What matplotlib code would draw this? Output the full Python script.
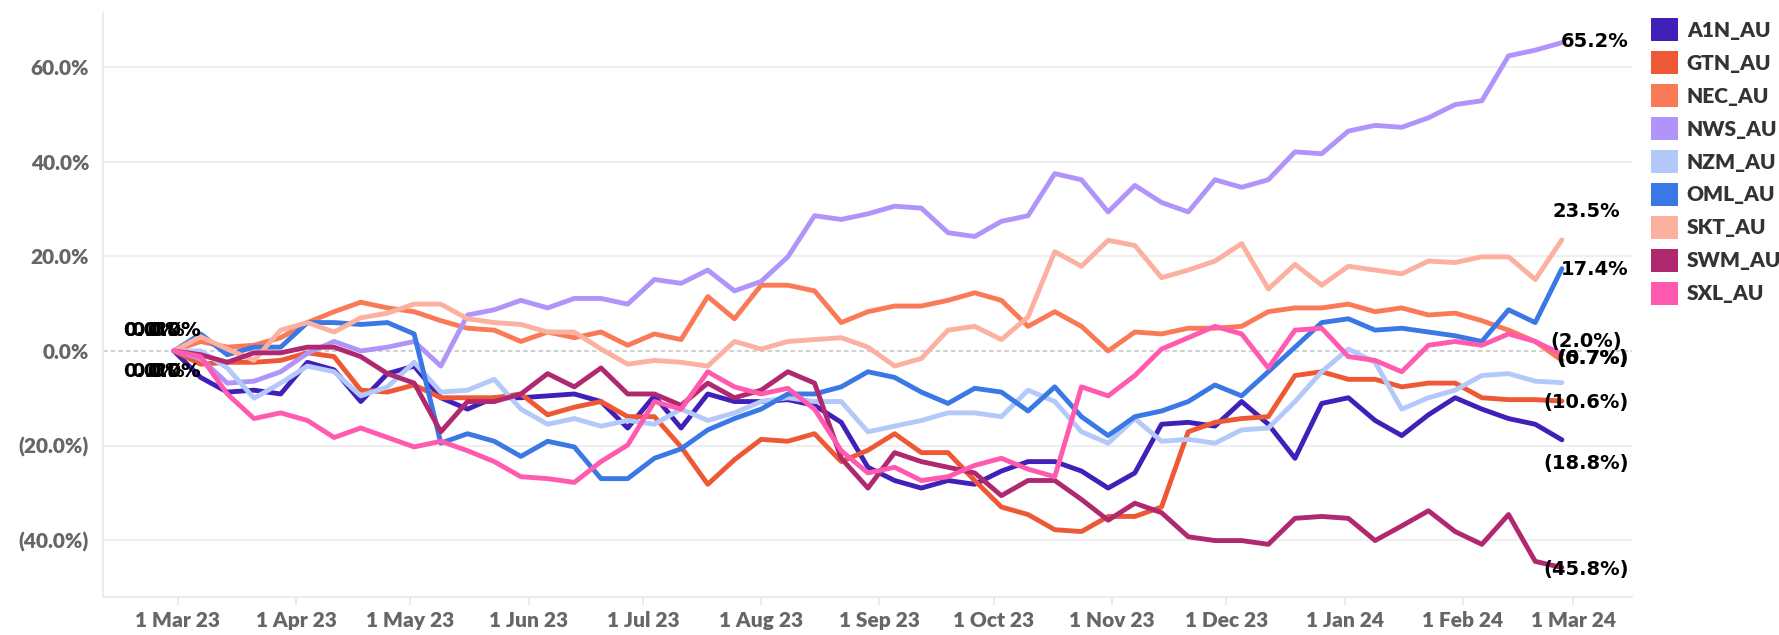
import matplotlib
matplotlib.use('Agg')
import matplotlib.pyplot as plt
import matplotlib.dates as mdates
from matplotlib.patches import Patch
from matplotlib.ticker import FuncFormatter, FixedLocator
import pandas as pd

# ---------------- data ----------------
dates = pd.date_range('2023-02-28', periods=53, freq='7D')

tickers = ['A1N_AU', 'GTN_AU', 'NEC_AU', 'NWS_AU', 'NZM_AU', 'OML_AU', 'SKT_AU', 'SWM_AU', 'SXL_AU']
colors = ['#4020B9', '#EE5834', '#FA7A58', '#B094FA', '#B2C9FA', '#3A78E6', '#FCB0A0', '#B02870', '#FF5AAF']

A1N = [0, -5.6, -8.7, -8.3, -9.1, -2.4, -4.0, -10.7, -4.8, -3.2,
       -9.9, -12.3, -9.9, -9.9, -9.5, -9.1, -10.7, -16.3, -9.5, -16.3,
       -9.1, -10.7, -10.7, -10.3, -11.5, -15.1, -24.6, -27.4, -29.0, -27.4,
       -28.2, -25.4, -23.4, -23.4, -25.4, -29.0, -25.8, -15.5, -15.1, -15.9,
       -10.7, -15.5, -22.7, -11.1, -9.9, -14.7, -17.9, -13.5, -9.9, -12.3,
       -14.3, -15.5, -18.8]
GTN = [0, -2.8, -2.4, -2.4, -2.0, -0.4, -1.2, -8.3, -8.7, -7.2,
       -9.9, -9.9, -9.9, -9.1, -13.5, -11.9, -10.7, -13.9, -13.9, -20.3,
       -28.2, -23.0, -18.7, -19.1, -17.5, -23.4, -21.0, -17.5, -21.5, -21.5,
       -27.4, -33.0, -34.6, -37.8, -38.2, -35.0, -35.0, -33.0, -17.1, -15.1,
       -14.3, -13.9, -5.2, -4.4, -6.0, -6.0, -7.6, -6.8, -6.8, -9.9,
       -10.3, -10.3, -10.6]
NEC = [0, 2.0, 0.8, 1.2, 2.8, 6.0, 8.3, 10.3, 9.1, 8.3,
       6.4, 4.8, 4.4, 2.0, 4.0, 2.8, 4.0, 1.2, 3.6, 2.4,
       11.5, 6.8, 13.9, 13.9, 12.7, 6.0, 8.3, 9.5, 9.5, 10.7,
       12.3, 10.7, 5.2, 8.3, 5.2, 0.0, 4.0, 3.6, 4.8, 4.8,
       5.2, 8.3, 9.1, 9.1, 9.9, 8.3, 9.1, 7.6, 8.0, 6.4,
       4.4, 2.0, -2.0]
NWS = [0, -1.6, -6.8, -6.4, -4.4, -0.5, 2.0, 0.0, 0.8, 2.0,
       -3.2, 7.6, 8.7, 10.7, 9.1, 11.1, 11.1, 9.9, 15.1, 14.3,
       17.1, 12.7, 14.7, 19.9, 28.6, 27.8, 29.0, 30.6, 30.2, 25.0,
       24.2, 27.4, 28.6, 37.5, 36.2, 29.4, 35.0, 31.4, 29.4, 36.2,
       34.6, 36.2, 42.1, 41.7, 46.5, 47.7, 47.3, 49.3, 52.1, 52.9,
       62.4, 63.6, 65.2]
NZM = [0, 0.0, -3.6, -10.0, -6.8, -3.2, -4.4, -9.5, -7.6, -2.4,
       -8.7, -8.3, -6.0, -12.3, -15.5, -14.3, -15.9, -14.7, -15.5, -12.3,
       -14.7, -13.1, -10.7, -9.9, -10.7, -10.7, -17.1, -15.9, -14.7, -13.1,
       -13.1, -13.9, -8.3, -10.7, -17.1, -19.5, -14.3, -19.1, -18.7, -19.5,
       -16.7, -16.3, -10.7, -4.4, 0.4, -2.4, -12.3, -9.9, -8.3, -5.2,
       -4.8, -6.4, -6.7]
OML = [0, 3.6, -0.8, 0.8, 0.8, 6.0, 6.0, 5.6, 6.0, 3.6,
       -19.5, -17.5, -19.1, -22.3, -19.1, -20.3, -27.0, -27.0, -22.7, -20.7,
       -16.7, -14.3, -12.3, -9.1, -9.1, -7.6, -4.4, -5.6, -8.7, -11.1,
       -7.9, -8.7, -12.7, -7.6, -13.9, -17.9, -13.9, -12.7, -10.7, -7.2,
       -9.5, -4.4, 0.8, 6.0, 6.8, 4.4, 4.8, 4.0, 3.2, 2.0,
       8.7, 6.0, 17.4]
SKT = [0, 3.0, 0.4, -2.0, 4.4, 6.0, 4.0, 7.0, 8.0, 9.9,
       9.9, 6.8, 6.0, 5.6, 4.0, 4.0, 0.4, -2.8, -2.0, -2.4,
       -3.2, 2.0, 0.4, 2.0, 2.4, 2.8, 0.8, -3.2, -1.6, 4.4,
       5.2, 2.4, 7.2, 21.0, 17.9, 23.4, 22.3, 15.5, 17.1, 19.0,
       22.7, 13.1, 18.3, 13.9, 17.9, 17.1, 16.3, 19.0, 18.7, 19.9,
       19.9, 15.1, 23.5]
SWM = [0, -0.8, -2.4, -0.4, -0.4, 0.8, 0.8, -1.2, -4.8, -6.8,
       -17.1, -10.7, -10.7, -9.1, -4.8, -7.6, -3.6, -9.1, -9.1, -11.5,
       -6.8, -9.9, -8.3, -4.4, -6.8, -22.7, -29.0, -21.5, -23.4, -24.6,
       -25.8, -30.6, -27.4, -27.4, -31.4, -35.8, -32.2, -34.2, -39.3, -40.1,
       -40.1, -40.9, -35.4, -35.0, -35.4, -40.1, -37.0, -33.8, -38.2, -40.9,
       -34.6, -44.5, -45.8]
SXL = [0, -1.2, -9.1, -14.3, -13.1, -14.7, -18.3, -16.3, -18.3, -20.3,
       -19.1, -21.1, -23.4, -26.6, -27.0, -27.8, -23.4, -19.9, -10.7, -12.3,
       -4.4, -7.6, -9.1, -7.9, -12.3, -21.1, -25.8, -24.6, -27.4, -26.6,
       -24.2, -22.7, -25.0, -26.6, -7.6, -9.5, -5.2, 0.4, 2.8, 5.2,
       3.6, -3.6, 4.4, 4.8, -1.2, -2.0, -4.4, 1.2, 2.0, 1.2,
       3.6, 2.0, -0.7]

series = [A1N, GTN, NEC, NWS, NZM, OML, SKT, SWM, SXL]

y_ticks = [-40, -20, 0, 20, 40, 60]
month_ticks = pd.date_range('2023-03-01', '2024-03-01', freq='MS')

# label placement (offset points from the last / first point)
end_offsets = {
    'A1N_AU': (47.9, -16.8), 'GTN_AU': (47.9, -1.2), 'NEC_AU': (43.5, 13.5),
    'NWS_AU': (47.9, 0.7), 'NZM_AU': (47.9, 17.6), 'OML_AU': (47.9, -0.9),
    'SKT_AU': (42.2, 20.3), 'SWM_AU': (47.9, -1.3), 'SXL_AU': (47.9, -2.9),
}
start_offsets = {
    'A1N_AU': (-17.2, 14.4), 'NEC_AU': (-17.2, 14.4), 'OML_AU': (0, 14.4),
    'SKT_AU': (-11.5, 14.4), 'SXL_AU': (0, 14.4),
    'GTN_AU': (-17.2, -14.9), 'NWS_AU': (-11.5, -14.9), 'NZM_AU': (0, -14.9),
    'SWM_AU': (0, -14.9),
}


def pct(v):
    return f"{v:.1f}%" if v >= -0.05 else f"({-v:.1f}%)"


# ---------------- figure ----------------
W, H = 1779, 635
fig = plt.figure(figsize=(W / 100, H / 100), dpi=100)
fig.patch.set_facecolor('white')
left, right, top, bottom = 103, 1631.7, 13.3, 596.7
ax = fig.add_axes([left / W, 1 - bottom / H, (right - left) / W, (bottom - top) / H])

tick_family = ['Lato', 'DejaVu Sans']
lab_font = dict(family=['DejaVu Sans'], weight='bold', size=14)

for name, vals, col in zip(tickers, series, colors):
    ax.plot(dates, vals, color=col, lw=3.5, solid_joinstyle='round',
            solid_capstyle='round', zorder=3)

for name, vals in zip(tickers, series):
    dx, dy = end_offsets[name]
    ax.annotate(pct(vals[-1]), xy=(dates[-1], vals[-1]), xytext=(dx, dy),
                textcoords='offset points', ha='right', va='center',
                color='black', zorder=5, **lab_font)
    sx, sy = start_offsets[name]
    ax.annotate(pct(vals[0]), xy=(dates[0], vals[0]), xytext=(sx, sy),
                textcoords='offset points', ha='center', va='center',
                color='black', zorder=5, **lab_font)

x0 = mdates.date2num(pd.Timestamp('2023-03-01')) - 19.6
x1 = mdates.date2num(pd.Timestamp('2024-03-01')) + 15.3
ax.set_xlim(x0, x1)
ax.set_ylim(-51.97, 71.4)

ax.yaxis.set_major_locator(FixedLocator(y_ticks))
ax.yaxis.set_major_formatter(FuncFormatter(lambda v, p: pct(v)))
ax.xaxis.set_major_locator(FixedLocator(mdates.date2num(month_ticks)))


def dfmt(x, p):
    d = mdates.num2date(x)
    return f"{d.day} {d.strftime('%b %y')}"


ax.xaxis.set_major_formatter(FuncFormatter(dfmt))

for v in y_ticks:
    if v != 0:
        ax.axhline(v, color='#efefef', lw=1.5, zorder=1)
ax.axhline(0, color='#c4c4c4', lw=1.1, ls=(0, (3, 2)), zorder=1)

for s in ['top', 'right']:
    ax.spines[s].set_visible(False)
for s in ['left', 'bottom']:
    ax.spines[s].set_color('#ececec')
    ax.spines[s].set_linewidth(1.5)

ax.tick_params(axis='x', direction='out', length=5.8, width=1.2, color='#e6e6e6',
               pad=4.5, labelcolor='#666666')
ax.tick_params(axis='y', length=0, pad=10, labelcolor='#666666')
for lbl in ax.get_xticklabels() + ax.get_yticklabels():
    lbl.set_fontfamily(tick_family)
    lbl.set_fontweight('heavy')
    lbl.set_fontsize(15)

handles = [Patch(facecolor=c, edgecolor='none') for c in colors]
leg = fig.legend(handles, tickers, loc='upper left',
                 bbox_to_anchor=(1651 / W, 1 - 18.5 / H), bbox_transform=fig.transFigure,
                 frameon=False, borderpad=0, borderaxespad=0,
                 handlelength=1.3, handleheight=1.3, handletextpad=0.42,
                 labelspacing=0.49,
                 prop=dict(family=tick_family, weight='heavy', size=15))
for t in leg.get_texts():
    t.set_color('#333333')

fig.savefig('out.png', dpi=100, facecolor='white')
